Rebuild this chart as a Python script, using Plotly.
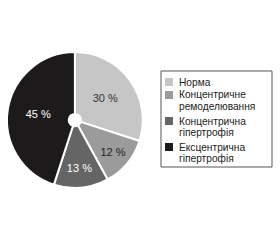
import plotly.graph_objects as go

labels = ["Норма", "Концентричне<br>ремоделювання", "Концентрична<br>гіпертрофія", "Ексцентрична<br>гіпертрофія"]
values = [30, 12, 13, 45]
text_labels = ["30 %", "12 %", "13 %", "45 %"]
colors = ["#c6c6c6", "#9b9b9b", "#656565", "#1c1a1b"]
text_colors = ["#333333", "#222222", "#ffffff", "#ffffff"]

W, H = 280, 240
fig = go.Figure(go.Pie(
    labels=labels, values=values, text=text_labels, textinfo="text",
    textposition="inside", insidetextorientation="horizontal",
    sort=False, direction="clockwise", rotation=0, hole=0.09,
    marker=dict(colors=colors, line=dict(color="white", width=2)),
    textfont=dict(family="Liberation Sans, Arial", size=11, color=text_colors),
    domain=dict(x=[0.025, 0.51], y=[0.217, 0.783]),
    hoverinfo="skip", showlegend=False,
))

# manual legend (compact, like the reference)
def px(x):
    return x / W

def py(y):
    return 1 - y / H

shapes = [dict(type="rect", xref="paper", yref="paper",
               x0=px(161), x1=px(272), y0=py(71), y1=py(167),
               line=dict(color="#555555", width=1), fillcolor="white", layer="below")]
annotations = []
item_top = [82, 95, 121, 147]
line_gap = 11.5
for lab, col, yc in zip(labels, colors, item_top):
    shapes.append(dict(type="rect", xref="paper", yref="paper",
                       x0=px(165), x1=px(173), y0=py(yc - 4), y1=py(yc + 4),
                       line=dict(width=0), fillcolor=col))
    for k, part in enumerate(lab.split("<br>")):
        annotations.append(dict(text=part, xref="paper", yref="paper",
                                x=px(178), y=py(yc + k * line_gap),
                                xanchor="left", yanchor="middle", showarrow=False,
                                borderpad=0,
                                font=dict(family="Liberation Sans, Arial", size=10.2, color="#222222")))

fig.update_layout(
    width=W, height=H, margin=dict(l=0, r=0, t=0, b=0),
    paper_bgcolor="white", plot_bgcolor="white",
    showlegend=False, shapes=shapes, annotations=annotations,
)
fig.write_html("out.html")
